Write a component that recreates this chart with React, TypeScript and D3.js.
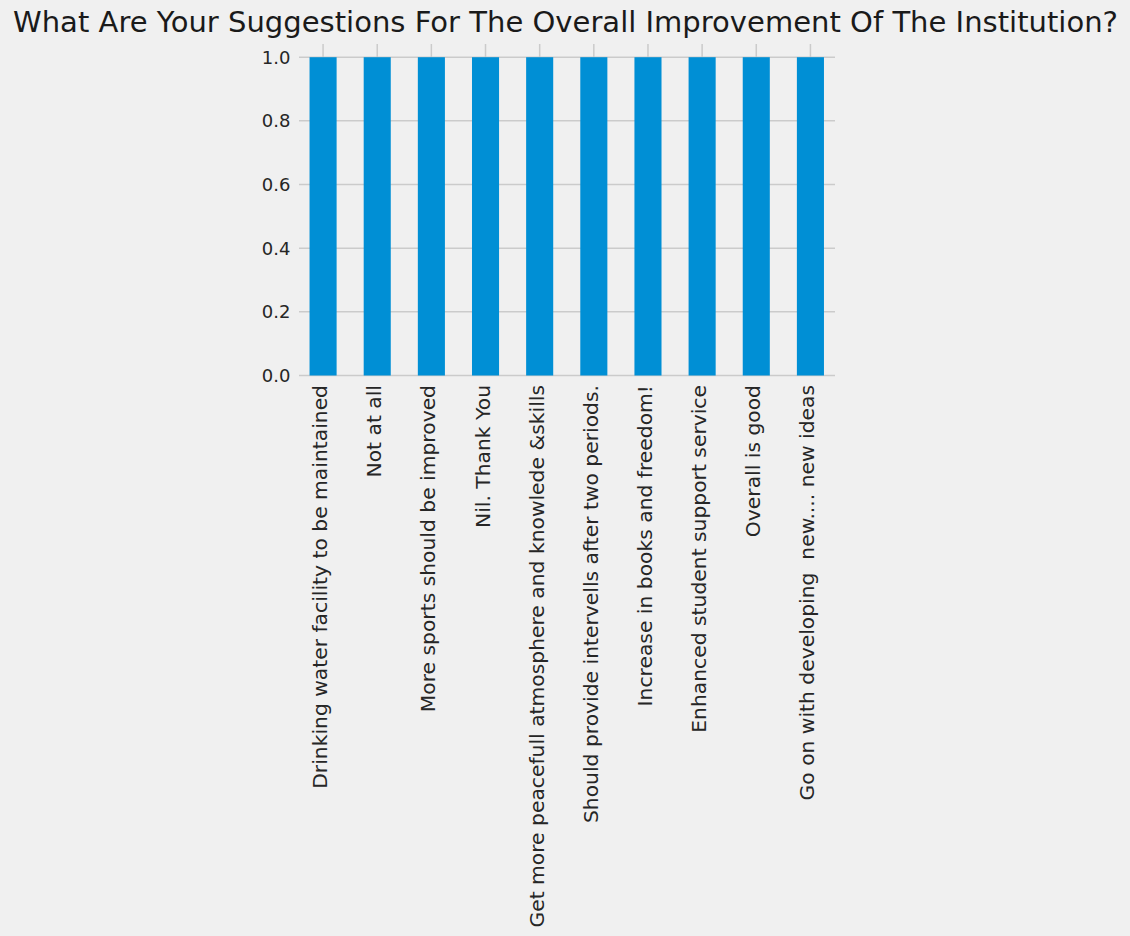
import React from "react";
import * as d3 from "d3";

const categories: string[] = [
  "Drinking water facility to be maintained",
  "Not at all",
  "More sports should be improved",
  "Nil. Thank You",
  "Get more peacefull atmosphere and knowlede &skills",
  "Should provide intervells after two periods.",
  "Increase in books and freedom!",
  "Enhanced student support service",
  "Overall is good",
  "Go on with developing  new.... new ideas",
];
const values: number[] = [1, 1, 1, 1, 1, 1, 1, 1, 1, 1];
const yTicks: number[] = [0, 0.2, 0.4, 0.6, 0.8, 1.0];
const title = "What Are Your Suggestions For The Overall Improvement Of The Institution?";

const W = 1130;
const H = 936;
const left = 296;
const right = 837.5;
const top = 44;
const bottom = 375.5;

export default function App() {
  const x = d3
    .scaleBand<string>()
    .domain(categories)
    .range([left, right])
    .paddingInner(0.5)
    .paddingOuter(0.25);
  const y = d3.scaleLinear().domain([0, 1.0415]).range([bottom, top]);
  const font = "'DejaVu Sans', sans-serif";
  return (
    <svg
      width={W}
      height={H}
      style={{ position: "fixed", left: 0, top: 0, display: "block" }}
    >
      <rect x={0} y={0} width={W} height={H} fill="#f0f0f0" />
      {yTicks.map((t) => (
        <line
          key={"gy" + t}
          x1={299}
          x2={835}
          y1={y(t)}
          y2={y(t)}
          stroke="#cbcbcb"
          strokeWidth={1.5}
        />
      ))}
      {categories.map((c) => (
        <line
          key={"gx" + c}
          x1={x(c)! + x.bandwidth() / 2}
          x2={x(c)! + x.bandwidth() / 2}
          y1={top}
          y2={bottom}
          stroke="#cbcbcb"
          strokeWidth={1.5}
        />
      ))}
      {categories.map((c, i) => (
        <rect
          key={"b" + c}
          x={x(c)!}
          y={y(values[i])}
          width={x.bandwidth()}
          height={y(0) - y(values[i])}
          fill="#008fd5"
        />
      ))}
      {yTicks.map((t) => (
        <text
          key={"ty" + t}
          x={290.5}
          y={y(t)}
          textAnchor="end"
          dominantBaseline="central"
          fontFamily={font}
          fontSize={18}
          fill="#262626"
        >
          {t.toFixed(1)}
        </text>
      ))}
      {categories.map((c) => (
        <text
          key={"tx" + c}
          transform={`translate(${x(c)! + x.bandwidth() / 2 + 4},${bottom + 9.5}) rotate(-90)`}
          textAnchor="end"
          fontFamily={font}
          fontSize={20.3}
          fill="#262626"
          style={{ whiteSpace: "pre" }}
        >
          {c}
        </text>
      ))}
      <text
        x={565.5}
        y={32}
        textAnchor="middle"
        fontFamily={font}
        fontSize={29}
        textLength={1105}
        lengthAdjust="spacingAndGlyphs"
        fill="#1a1a1a"
      >
        {title}
      </text>
    </svg>
  );
}
